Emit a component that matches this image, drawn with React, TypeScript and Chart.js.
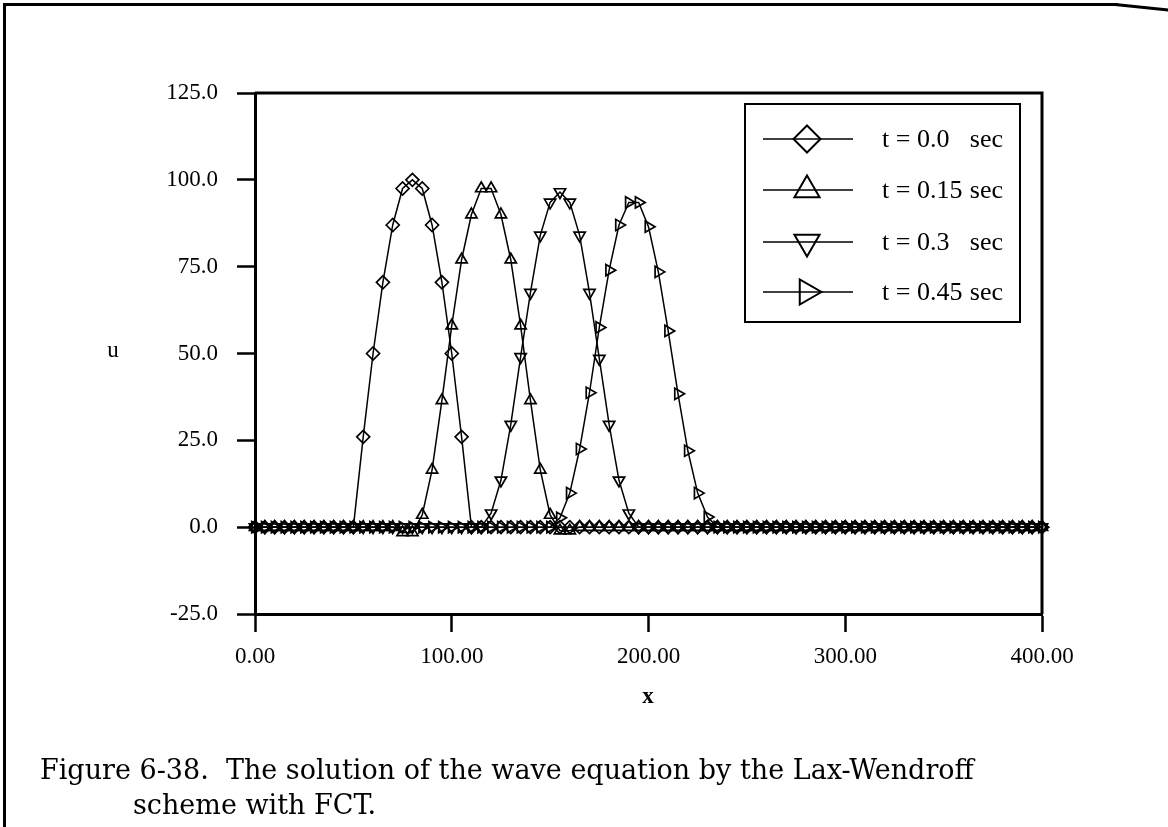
import React, { useEffect, useRef } from "react";
import { Chart, registerables } from "chart.js";

Chart.register(...registerables);

// x grid positions
const xValues = [
  0, 5, 10, 15, 20, 25, 30, 35, 40, 45,
  50, 55, 60, 65, 70, 75, 80, 85, 90, 95,
  100, 105, 110, 115, 120, 125, 130, 135, 140, 145,
  150, 155, 160, 165, 170, 175, 180, 185, 190, 195,
  200, 205, 210, 215, 220, 225, 230, 235, 240, 245,
  250, 255, 260, 265, 270, 275, 280, 285, 290, 295,
  300, 305, 310, 315, 320, 325, 330, 335, 340, 345,
  350, 355, 360, 365, 370, 375, 380, 385, 390, 395,
  400,
];

// u at t = 0.0 sec
const uT000 = [
  0, 0, 0, 0, 0, 0, 0, 0, 0, 0,
  0, 26, 50, 70.5, 87, 97.5, 100, 97.5, 87, 70.5,
  50, 26, 0, 0, 0, 0, 0, 0, 0, 0,
  0, 0, 0, 0, 0, 0, 0, 0, 0, 0,
  0, 0, 0, 0, 0, 0, 0, 0, 0, 0,
  0, 0, 0, 0, 0, 0, 0, 0, 0, 0,
  0, 0, 0, 0, 0, 0, 0, 0, 0, 0,
  0, 0, 0, 0, 0, 0, 0, 0, 0, 0,
  0,
];

// u at t = 0.15 sec
const uT015 = [
  0, 0, 0, 0, 0, 0, 0, 0, 0, 0,
  0, 0, 0, 0, 0, -1.5, -1.5, 3.5, 16.5, 36.5,
  58, 77, 90, 97.5, 97.5, 90, 77, 58, 36.5, 16.5,
  3.5, -1, -1, 0, 0, 0, 0, 0, 0, 0,
  0, 0, 0, 0, 0, 0, 0, 0, 0, 0,
  0, 0, 0, 0, 0, 0, 0, 0, 0, 0,
  0, 0, 0, 0, 0, 0, 0, 0, 0, 0,
  0, 0, 0, 0, 0, 0, 0, 0, 0, 0,
  0,
];

// u at t = 0.3 sec
const uT030 = [
  0, 0, 0, 0, 0, 0, 0, 0, 0, 0,
  0, 0, 0, 0, 0, 0, 0, 0, 0, 0,
  0, 0, 0, 0, 4, 13.5, 29.5, 49, 67.5, 84,
  93.5, 96.5, 93.5, 84, 67.5, 48.5, 29.5, 13.5, 4, 0,
  0, 0, 0, 0, 0, 0, 0, 0, 0, 0,
  0, 0, 0, 0, 0, 0, 0, 0, 0, 0,
  0, 0, 0, 0, 0, 0, 0, 0, 0, 0,
  0, 0, 0, 0, 0, 0, 0, 0, 0, 0,
  0,
];

// u at t = 0.45 sec
const uT045 = [
  0, 0, 0, 0, 0, 0, 0, 0, 0, 0,
  0, 0, 0, 0, 0, 0, 0, 0, 0, 0,
  0, 0, 0, 0, 0, 0, 0, 0, 0, 0,
  0, 2.7, 9.8, 22.5, 38.7, 57.5, 74, 87, 93.5, 93.5,
  86.5, 73.5, 56.5, 38.4, 22, 9.8, 2.9, 0, 0, 0,
  0, 0, 0, 0, 0, 0, 0, 0, 0, 0,
  0, 0, 0, 0, 0, 0, 0, 0, 0, 0,
  0, 0, 0, 0, 0, 0, 0, 0, 0, 0,
  0,
];

const seriesLabels = ["t = 0.0   sec", "t = 0.15 sec", "t = 0.3   sec", "t = 0.45 sec"];
const seriesValues = [uT000, uT015, uT030, uT045];
const xTickValues = [0, 100, 200, 300, 400];
const yTickValues = [-25, 0, 25, 50, 75, 100, 125];
const xAxisTitle = "x";
const yAxisTitle = "u";
const captionLine1 = "Figure 6-38.  The solution of the wave equation by the Lax-Wendroff";
const captionLine2 = "scheme with FCT.";

const SERIF = '"Liberation Serif", "Times New Roman", serif';
const markerStyles = [
  { pointStyle: "rectRot", rotation: 0, kind: "diamond" },
  { pointStyle: "triangle", rotation: 0, kind: "tri" },
  { pointStyle: "triangle", rotation: 180, kind: "tri" },
  { pointStyle: "triangle", rotation: 90, kind: "tri" },
];

function drawMarker(ctx: CanvasRenderingContext2D, kind: string, rotation: number, x: number, y: number, r: number) {
  ctx.beginPath();
  if (kind === "diamond") {
    ctx.moveTo(x, y - r);
    ctx.lineTo(x + r, y);
    ctx.lineTo(x, y + r);
    ctx.lineTo(x - r, y);
  } else {
    let rad = (rotation * Math.PI) / 180;
    for (let k = 0; k < 3; k++) {
      const px = x + Math.sin(rad) * r;
      const py = y - Math.cos(rad) * r;
      if (k === 0) ctx.moveTo(px, py);
      else ctx.lineTo(px, py);
      rad += (2 * Math.PI) / 3;
    }
  }
  ctx.closePath();
  ctx.stroke();
}

const framePlugin = {
  id: "frameAndLegend",
  afterDraw(chart: any) {
    const { ctx, chartArea: a } = chart;
    ctx.save();
    ctx.strokeStyle = "#000";
    ctx.lineWidth = 3;
    ctx.beginPath();
    ctx.moveTo(a.left, a.top);
    ctx.lineTo(a.right, a.top);
    ctx.lineTo(a.right, a.bottom);
    ctx.stroke();

    // legend box
    const lx = 745, ly = 104, lw = 275, lh = 218;
    ctx.fillStyle = "#fff";
    ctx.fillRect(lx, ly, lw, lh);
    ctx.lineWidth = 2;
    ctx.strokeRect(lx, ly, lw, lh);
    const rowY = [139, 190, 242, 292];
    ctx.fillStyle = "#000";
    ctx.font = `26px ${SERIF}`;
    ctx.textBaseline = "middle";
    seriesLabels.forEach((label, i) => {
      const y = rowY[i];
      ctx.lineWidth = 1.5;
      ctx.beginPath();
      ctx.moveTo(763, y);
      ctx.lineTo(853, y);
      ctx.stroke();
      ctx.lineWidth = 2;
      const m = markerStyles[i];
      drawMarker(ctx, m.kind, m.rotation, 807, y, m.kind === "diamond" ? 13.5 : 14.5);
      const left = label.replace(/\s+sec$/, "");
      ctx.textAlign = "left";
      ctx.fillText(left, 882, y + 1);
      ctx.textAlign = "right";
      ctx.fillText("sec", 1003, y + 1);
    });

    // axis titles
    ctx.textAlign = "center";
    ctx.font = `23px ${SERIF}`;
    ctx.fillText(yAxisTitle, 113, 351);
    ctx.font = `bold 23px ${SERIF}`;
    ctx.fillText(xAxisTitle, 648, 697);
    ctx.restore();
  },
};

export default function App() {
  const canvasRef = useRef<HTMLCanvasElement | null>(null);

  useEffect(() => {
    const canvas = canvasRef.current;
    if (!canvas) return;
    const datasets = seriesValues.map((vals, i) => ({
      label: seriesLabels[i],
      data: xValues.map((x, j) => ({ x, y: vals[j] })),
      borderColor: "#000",
      borderWidth: 1.5,
      pointStyle: markerStyles[i].pointStyle,
      pointRotation: markerStyles[i].rotation,
      pointRadius: 6.5,
      pointBorderWidth: 1.7,
      pointBorderColor: "#000",
      pointBackgroundColor: "rgba(0,0,0,0)",
      tension: 0,
      fill: false,
      clip: false as any,
    }));

    const chart = new Chart(canvas, {
      type: "line",
      data: { datasets },
      options: {
        animation: false,
        responsive: false,
        maintainAspectRatio: false,
        layout: { padding: { top: 93, right: 126, bottom: 0, left: 0 } },
        plugins: { legend: { display: false }, tooltip: { enabled: false }, title: { display: false } },
        scales: {
          x: {
            type: "linear",
            min: 0,
            max: 400,
            afterBuildTicks: (s: any) => {
              s.ticks = xTickValues.map((v) => ({ value: v }));
            },
            afterFit: (s: any) => {
              s.height = 213;
            },
            ticks: {
              callback: (v: any) => Number(v).toFixed(2),
              font: { family: SERIF, size: 23 },
              color: "#000",
              padding: 11,
              maxRotation: 0,
              autoSkip: false,
            },
            grid: {
              display: true,
              drawOnChartArea: false,
              drawTicks: true,
              tickLength: 18,
              tickWidth: 2.5,
              tickColor: "#000",
              color: "#000",
            },
            border: { display: true, color: "#000", width: 3 },
          },
          y: {
            type: "linear",
            min: -25,
            max: 125,
            afterBuildTicks: (s: any) => {
              s.ticks = yTickValues.map((v) => ({ value: v }));
            },
            afterFit: (s: any) => {
              s.width = 255;
            },
            ticks: {
              callback: (v: any) => Number(v).toFixed(1),
              font: { family: SERIF, size: 23 },
              color: "#000",
              padding: 19,
              autoSkip: false,
            },
            grid: {
              display: true,
              drawOnChartArea: false,
              drawTicks: true,
              tickLength: 18,
              tickWidth: 2.5,
              tickColor: "#000",
              color: "#000",
            },
            border: { display: true, color: "#000", width: 3 },
          },
        },
      },
      plugins: [framePlugin],
    } as any);
    return () => chart.destroy();
  }, []);

  const captionStyle: React.CSSProperties = {
    position: "absolute",
    fontFamily: '"DejaVu Serif", serif',
    fontSize: 27,
    lineHeight: "34px",
    whiteSpace: "pre",
    color: "#000",
  };

  return (
    <div
      style={{
        position: "absolute",
        left: 0,
        top: 0,
        width: 1168,
        height: 827,
        background: "#fff",
        overflow: "hidden",
      }}
    >
      <canvas ref={canvasRef} width={1168} height={827} style={{ display: "block", position: "absolute", left: 0, top: 0 }} />
      <div style={{ position: "absolute", left: 3, top: 3, width: 1115, height: 3, background: "#000" }} />
      <div
        style={{
          position: "absolute",
          left: 1115,
          top: 3,
          width: 56,
          height: 3,
          background: "#000",
          transform: "rotate(6deg)",
          transformOrigin: "left center",
        }}
      />
      <div style={{ position: "absolute", left: 3, top: 3, width: 3, height: 824, background: "#000" }} />
      <div style={{ ...captionStyle, left: 40, top: 753 }}>{captionLine1}</div>
      <div style={{ ...captionStyle, left: 133, top: 788 }}>{captionLine2}</div>
    </div>
  );
}
